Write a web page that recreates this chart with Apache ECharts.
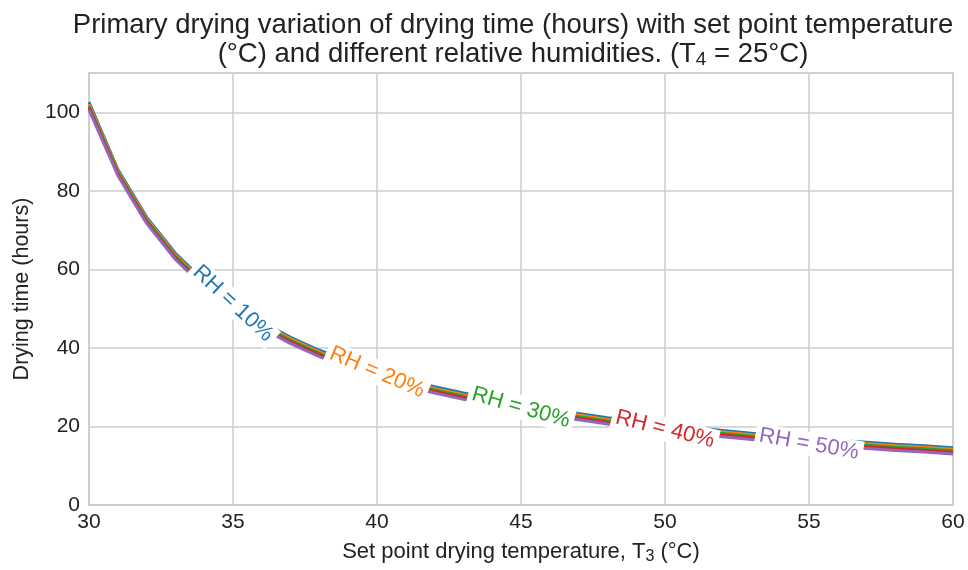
<!DOCTYPE html>
<html>
<head>
<meta charset="utf-8">
<script src="https://cdn.jsdelivr.net/npm/echarts@6/dist/echarts.min.js"></script>
<style>html,body{margin:0;padding:0;background:#fff}#c{width:968px;height:570px}</style>
</head>
<body>
<div id="c"></div>
<script>
const T3 = [30,31,32,33,34,35,36,37,38,39,40,41,42,43,44,45,46,47,48,49,50,51,52,53,54,55,56,57,58,59,60];
const rh10 = [102.6,85.5,73.3,64.1,57.0,51.3,46.6,42.7,39.4,36.6,34.2,32.0,30.1,28.5,27.0,25.6,24.4,23.3,22.2,21.3,20.5,19.7,19.0,18.3,17.7,17.1,16.5,16.0,15.5,15.1,14.6];
const rh20 = [102.1,85.1,72.9,63.7,56.6,50.9,46.2,42.3,39.0,36.2,33.8,31.6,29.7,28.1,26.6,25.2,24.0,22.9,21.8,20.9,20.1,19.3,18.6,17.9,17.3,16.7,16.1,15.6,15.1,14.7,14.2];
const rh30 = [101.6,84.7,72.5,63.3,56.2,50.5,45.8,41.9,38.6,35.8,33.4,31.2,29.3,27.7,26.2,24.8,23.6,22.5,21.4,20.5,19.7,18.9,18.2,17.5,16.9,16.3,15.7,15.2,14.7,14.3,13.8];
const rh40 = [101.1,84.3,72.1,62.9,55.8,50.1,45.4,41.5,38.2,35.4,33.0,30.8,28.9,27.3,25.8,24.4,23.2,22.1,21.0,20.1,19.3,18.5,17.8,17.1,16.5,15.9,15.3,14.8,14.3,13.9,13.4];
const rh50 = [100.6,83.9,71.7,62.5,55.4,49.7,45.0,41.1,37.8,35.0,32.6,30.4,28.5,26.9,25.4,24.0,22.8,21.7,20.6,19.7,18.9,18.1,17.4,16.7,16.1,15.5,14.9,14.4,13.9,13.5,13.0];
const seriesNames = ['RH = 10%','RH = 20%','RH = 30%','RH = 40%','RH = 50%'];
const seriesData = [rh10, rh20, rh30, rh40, rh50];
const colors = ['#1f77b4','#ff7f0e','#2ca02c','#d62728','#9467bd'];
const labelAt = [35, 40, 45, 50, 55];
const labelRot = [-43, -23, -16, -14, -10];

const chart = echarts.init(document.getElementById('c'), null, {renderer:'canvas'});
const FONT = '"Liberation Sans", Arial, sans-serif';
const INK = '#222222';
const series = seriesData.map((vals, i) => {
  const idx = T3.indexOf(labelAt[i]);
  return {
    name: seriesNames[i],
    type: 'line',
    data: T3.map((x, j) => [x, vals[j]]),
    showSymbol: false,
    symbol: 'none',
    lineStyle: {color: colors[i], width: 3},
    itemStyle: {color: colors[i]},
    z: 2 + i * 0.01,
    animation: false,
    markPoint: {
      z: 10,
      symbol: 'rect',
      symbolSize: 0,
      animation: false,
      data: [{
        coord: [labelAt[i], vals[idx]],
        label: {
          show: true,
          position: 'inside',
          formatter: seriesNames[i],
          rotate: labelRot[i],
          color: colors[i],
          fontFamily: FONT,
          fontSize: 22,
          backgroundColor: '#ffffff',
          padding: [1, 4, 1, 4]
        }
      }]
    }
  };
});

chart.setOption({
  animation: false,
  backgroundColor: '#ffffff',
  title: {
    text: '{t|Primary drying variation of drying time (hours) with set point temperature}\n{t|(°C) and different relative humidities. (T}{s|4}{t| = 25°C)}',
    left: 508,
    top: 6,
    textAlign: 'center',
    textStyle: {
      fontFamily: FONT,
      fontSize: 27.5,
      fontWeight: 'normal',
      color: INK,
      lineHeight: 29,
      rich: {
        t: {fontFamily: FONT, fontSize: 27.5, color: INK, lineHeight: 29},
        s: {fontFamily: FONT, fontSize: 19, color: INK, lineHeight: 29, verticalAlign: 'bottom', padding: [11, 0, 0, 0]}
      }
    }
  },
  grid: {left: 89, right: 15, top: 73, bottom: 63, show: true, borderColor: '#cccccc', borderWidth: 1.5, backgroundColor: '#ffffff'},
  xAxis: {
    type: 'value',
    min: 30, max: 60, interval: 5,
    name: '{t|Set point drying temperature, T}{s|3}{t| (°C)}',
    nameLocation: 'middle',
    nameGap: 34,
    nameTextStyle: {
      fontFamily: FONT, fontSize: 22, color: INK,
      rich: {
        t: {fontFamily: FONT, fontSize: 22, color: INK, lineHeight: 26},
        s: {fontFamily: FONT, fontSize: 16, color: INK, lineHeight: 26, verticalAlign: 'bottom', padding: [9, 0, 0, 0]}
      }
    },
    axisLine: {show: true, lineStyle: {color: '#cccccc', width: 1.5}},
    axisTick: {show: false},
    axisLabel: {fontFamily: FONT, fontSize: 21, color: INK, margin: 7},
    splitLine: {show: true, lineStyle: {color: '#cccccc', width: 1.5}}
  },
  yAxis: {
    type: 'value',
    min: 0, max: 110, interval: 20,
    name: 'Drying time (hours)',
    nameLocation: 'middle',
    nameGap: 56,
    nameTextStyle: {fontFamily: FONT, fontSize: 21.5, color: INK},
    axisLine: {show: true, lineStyle: {color: '#cccccc', width: 1.5}},
    axisTick: {show: false},
    axisLabel: {fontFamily: FONT, fontSize: 21, color: INK, margin: 9, showMaxLabel: false},
    splitLine: {show: true, lineStyle: {color: '#cccccc', width: 1.5}}
  },
  series: series
});
</script>
</body>
</html>
